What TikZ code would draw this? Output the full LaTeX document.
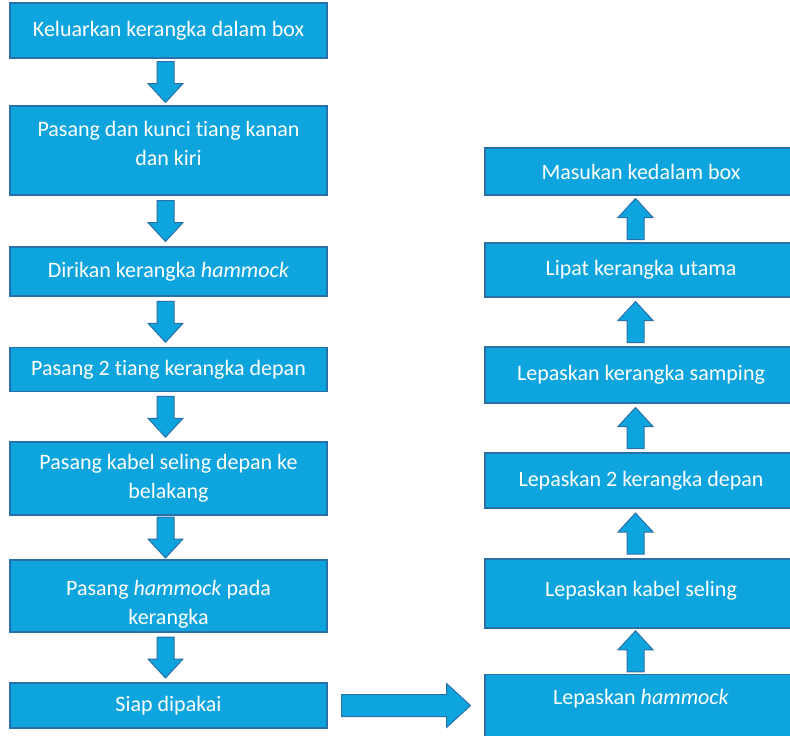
\documentclass[tikz,border=0pt]{standalone}
\usepackage{fontspec}
\setmainfont{Carlito}[Ligatures=NoCommon]
\usepackage{tikz}
\usetikzlibrary{calc}

\definecolor{boxfill}{RGB}{14,165,222}
\definecolor{boxline}{RGB}{42,112,168}

\begin{document}
\begin{tikzpicture}[x=1pt, y=-1pt,
    flowbox/.style={draw=boxline, fill=boxfill, line width=1.2pt, text=white,
                    align=center, inner sep=0pt,
                    font=\fontsize{22}{29}\selectfont},
    leftbox/.style={flowbox, minimum width=317pt},
    rightbox/.style={flowbox, minimum width=312pt},
    blockarrow/.style={draw=boxline, fill=boxfill, line width=1pt},
    downarrow/.pic={\path[blockarrow] (-8.5,-20.5) -- (8.5,-20.5) -- (8.5,1.5)
                    -- (17.5,1.5) -- (0,20.5) -- (-17.5,1.5) -- (-8.5,1.5) -- cycle;},
    rightarrow/.pic={\path[blockarrow] (-64.5,-11) -- (40.5,-11) -- (40.5,-22)
                    -- (64.5,0) -- (40.5,22) -- (40.5,11) -- (-64.5,11) -- cycle;}]
    \clip (0,0) rectangle (790,736);
    \fill[white] (0,0) rectangle (790,736);

    % left column: setting up
    \node[leftbox, minimum height=55pt] (keluar) at (168.5,30.5) {Keluarkan kerangka dalam box};
    \node[leftbox, minimum height=89pt, text depth=14pt] (kunci) at (168.5,150.5) {Pasang dan kunci tiang kanan\\dan kiri};
    \node[leftbox, minimum height=49pt] (dirikan) at (168.5,271.5) {Dirikan kerangka \textit{hammock}};
    \node[leftbox, minimum height=44pt] (tiang) at (168.5,369.5) {Pasang 2 tiang kerangka depan};
    \node[leftbox, minimum height=73pt] (kabel) at (168.5,478.5) {Pasang kabel seling depan ke\\belakang};
    \node[leftbox, minimum height=72pt, text height=60pt] (pasangham) at (168.5,596) {Pasang \textit{hammock} pada\\kerangka};
    \node[leftbox, minimum height=45pt] (siap) at (168.5,705.5) {Siap dipakai};

    % right column: taking down
    \node[rightbox, anchor=north, text height=30pt, text depth=50pt] (lepasham) at (641,674) {Lepaskan \textit{hammock}};
    \node[rightbox, minimum height=69pt, text depth=10pt] (lepaskabel) at (641,593.5) {Lepaskan kabel seling};
    \node[rightbox, minimum height=55pt] (lepasdepan) at (641,480.5) {Lepaskan 2 kerangka depan};
    \node[rightbox, minimum height=56pt] (lepassamping) at (641,375) {Lepaskan kerangka samping};
    \node[rightbox, minimum height=54pt] (lipat) at (641,270) {Lipat kerangka utama};
    \node[rightbox, minimum height=47pt] (masukan) at (641,171.5) {Masukan kedalam box};

    % arrows
    \foreach \a/\b in {keluar/kunci, kunci/dirikan, dirikan/tiang, tiang/kabel, kabel/pasangham, pasangham/siap}
        \pic at ($(\a.south)!0.5!(\b.north)+(-3,0)$) {downarrow};
    \foreach \a/\b in {lepasham/lepaskabel, lepaskabel/lepasdepan, lepasdepan/lepassamping, lepassamping/lipat, lipat/masukan}
        \pic[rotate=180] at ($(\a.north)!0.5!(\b.south)+(-5.5,0)$) {downarrow};
    \pic at ($(siap.east)!0.5!(siap.east -| lepasham.west)$) {rightarrow};
\end{tikzpicture}
\end{document}
